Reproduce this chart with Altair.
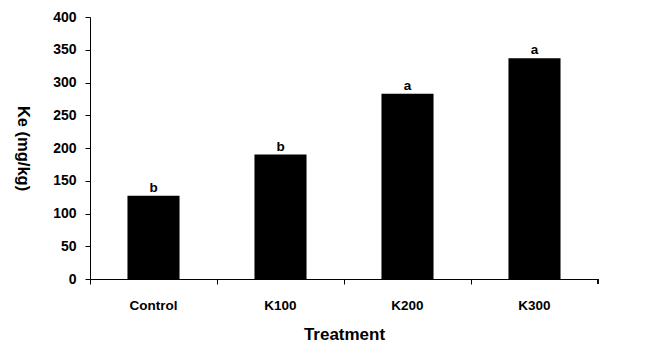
import altair as alt
import pandas as pd

treatments = ["Control", "K100", "K200", "K300"]
ke_values = [127, 190, 283, 337]
letters = ["b", "b", "a", "a"]
y_ticks = [0, 50, 100, 150, 200, 250, 300, 350, 400]

df = pd.DataFrame({"Treatment": treatments, "Ke": ke_values, "Letter": letters})

W, H = 508, 262
FONT = "Liberation Sans"

x_enc = alt.X(
    "Treatment:N",
    sort=treatments,
    scale=alt.Scale(paddingInner=0, paddingOuter=0),
    axis=alt.Axis(
        title="Treatment",
        labelAngle=0,
        bandPosition=0,
        tickSize=5,
        labelPadding=14,
        labelFontSize=13.5,
        labelFontWeight="bold",
        titleFontSize=17,
        titleFontWeight="bold",
        titlePadding=15,
    ),
)
y_enc = alt.Y(
    "Ke:Q",
    scale=alt.Scale(domain=[0, 400], nice=False),
    axis=alt.Axis(
        title="Ke (mg/kg)",
        values=y_ticks,
        labelOverlap=False,
        grid=False,
        tickSize=5,
        labelPadding=9,
        labelFontSize=14,
        labelFontWeight="bold",
        titleFontSize=16.5,
        titleFontWeight="bold",
        titleAngle=90,
        titleX=-68,
        titleY=H / 2,
        titleAlign="center",
        titleBaseline="middle",
    ),
)

base = alt.Chart(df)

bars = base.mark_bar(color="black", width=alt.RelativeBandSize(0.41)).encode(x=x_enc, y=y_enc)

text = base.mark_text(
    font=FONT, fontSize=13.5, fontWeight="bold", color="black", baseline="alphabetic", dy=-4
).encode(x=x_enc, y=y_enc, text="Letter:N")

end_tick = alt.Chart(df).mark_rule(color="black", strokeWidth=1).encode(
    x=alt.value(W), y=alt.value(H), y2=alt.value(H + 5)
)

chart = (
    alt.layer(bars, text, end_tick)
    .properties(
        width=W,
        height=H,
        autosize=alt.AutoSizeParams(type="none"),
        padding={"left": 82, "top": 9, "right": 40, "bottom": 67},
        background="white",
    )
    .configure_view(stroke=None)
    .configure_axis(
        domainColor="black",
        tickColor="black",
        labelColor="black",
        titleColor="black",
        labelFont=FONT,
        titleFont=FONT,
        domainWidth=1,
        tickWidth=1,
    )
)

chart.save("out.html", embed_options={"renderer": "svg", "actions": False})
